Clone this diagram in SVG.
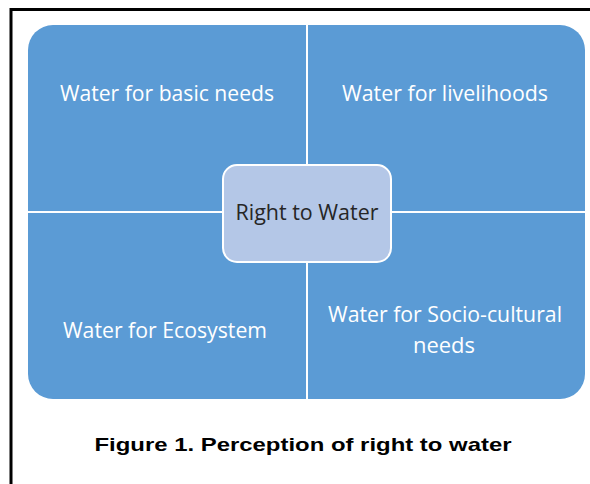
<svg xmlns="http://www.w3.org/2000/svg" width="590" height="484" viewBox="0 0 590 484">
<style>
.q{fill:#5b9bd5}
.qt{font-family:"Open Sans","Liberation Sans",sans-serif;font-size:21px;fill:#ffffff;text-anchor:middle}
.ct{font-family:"Open Sans","Liberation Sans",sans-serif;font-size:21px;fill:#262626;text-anchor:middle}
.cap{font-family:"Liberation Sans",Arial,sans-serif;font-size:19px;font-weight:bold;fill:#000;text-anchor:middle}
</style>
<rect width="590" height="484" fill="#ffffff"/>
<rect x="11" y="9.5" width="600" height="500" fill="none" stroke="#000" stroke-width="3"/>
<g id="connectors"></g>
<g id="basic">
<path class="q" d="M28,211 V50 A25,25 0 0 1 53,25 H306 V211 Z"/>
<text class="qt" x="167" y="101" textLength="214" lengthAdjust="spacingAndGlyphs">Water for basic needs</text>
</g>
<g id="livelihoods">
<path class="q" d="M308,25 H560 A25,25 0 0 1 585,50 V211 H308 Z"/>
<text class="qt" x="445" y="101" textLength="206" lengthAdjust="spacingAndGlyphs">Water for livelihoods</text>
</g>
<g id="ecosystem">
<path class="q" d="M28,213 H306 V399 H53 A25,25 0 0 1 28,374 Z"/>
<text class="qt" x="165" y="338" textLength="204" lengthAdjust="spacingAndGlyphs">Water for Ecosystem</text>
</g>
<g id="socio">
<path class="q" d="M308,213 H585 V374 A25,25 0 0 1 560,399 H308 Z"/>
<text class="qt" x="445" y="322" textLength="234" lengthAdjust="spacingAndGlyphs">Water for Socio-cultural</text>
<text class="qt" x="444" y="353" textLength="62" lengthAdjust="spacingAndGlyphs">needs</text>
</g>
<g id="center">
<rect x="223" y="165" width="168" height="97" rx="14" fill="#b4c7e7" stroke="#ffffff" stroke-width="2"/>
<text class="ct" x="307" y="220" textLength="143" lengthAdjust="spacingAndGlyphs">Right to Water</text>
</g>
<text class="cap" x="303" y="451" textLength="417" lengthAdjust="spacingAndGlyphs">Figure 1. Perception of right to water</text>
</svg>
